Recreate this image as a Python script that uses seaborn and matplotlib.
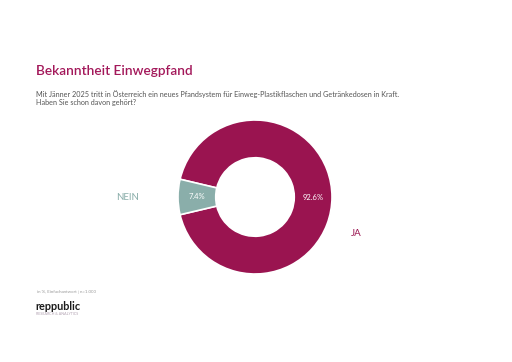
import matplotlib
matplotlib.use("Agg")
import matplotlib.pyplot as plt
import seaborn as sns

# data
labels = ["JA", "NEIN"]
values = [92.6, 7.4]
colors = ["#9a1450", "#8aaeaa"]

title = "Bekanntheit Einwegpfand"
question = ("Mit Jänner 2025 tritt in Österreich ein neues Pfandsystem für Einweg-Plastikflaschen und Getränkedosen in Kraft.\n"
            "Haben Sie schon davon gehört?")
footnote = "in %, Einfachantwort | n=1.000"

sns.set_theme(style="white")
plt.rcParams['font.family'] = ['Lato', 'DejaVu Sans']

fig = plt.figure(figsize=(5.12, 3.62), dpi=100)
fig.patch.set_facecolor("white")

# donut
ax = fig.add_axes([178 / 512, 1 - 274 / 362, 154 / 512, 154 / 362])
wedges, texts, autotexts = ax.pie(
    values, colors=colors, startangle=193.3, counterclock=True,
    autopct=lambda p: f"{p:.1f}%", pctdistance=0.755,
    wedgeprops=dict(width=0.49, edgecolor="white", linewidth=1.2),
    textprops=dict(color="white", fontsize=5.5),
)
ax.set_xlim(-1, 1)
ax.set_ylim(-1, 1)
ax.set_aspect("equal")
ax.axis("off")

ax.text(-1.66, 0.0, "NEIN", color=colors[1], fontsize=7, ha="center", va="center")
ax.text(1.32, -0.47, "JA", color=colors[0], fontsize=7, ha="center", va="center")

# texts
fig.text(36 / 512, 1 - 71 / 362, title, color="#a3185a", fontsize=9.8,
         fontweight="semibold", ha="left", va="center")
fig.text(36 / 512, 1 - 98 / 362, question, color="#555555", fontsize=5.2,
         ha="left", va="center", linespacing=1.25)
fig.text(37 / 512, 1 - 292 / 362, footnote, color="#999999", fontsize=3.2,
         ha="left", va="center")
fig.text(35 / 512, 1 - 306 / 362, "reppublic", color="#1a1a1a", fontsize=7.8,
         fontweight="bold", ha="left", va="center")
fig.text(36 / 512, 1 - 314 / 362, "RESEARCH & ANALYTICS", color="#b0a0b0", fontsize=2.6,
         ha="left", va="center")

fig.savefig("out.png", dpi=100, facecolor="white")
